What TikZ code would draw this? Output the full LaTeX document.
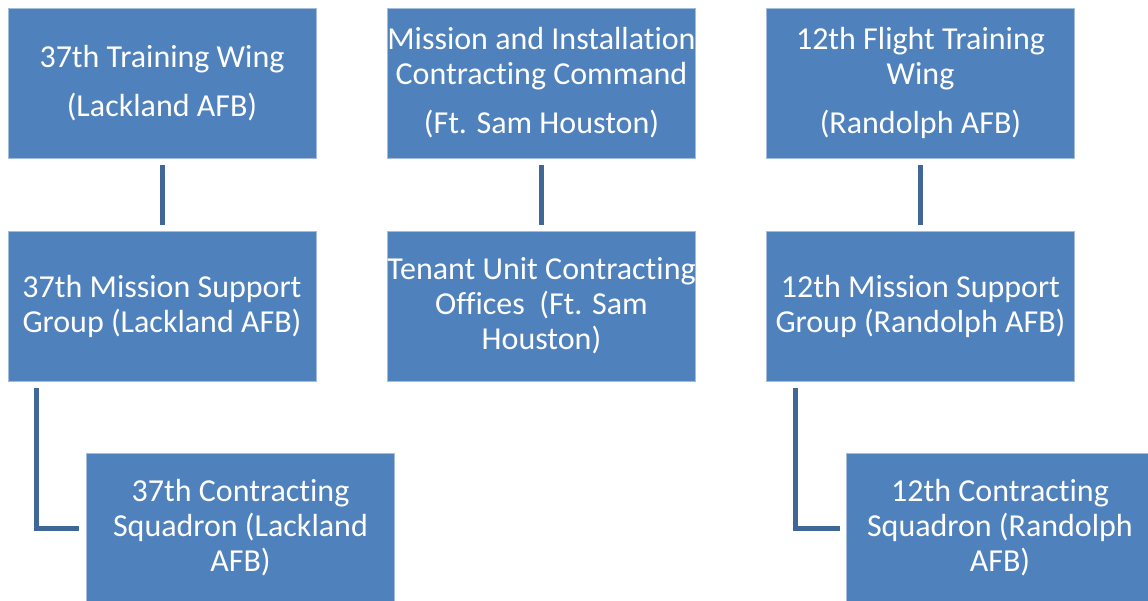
\documentclass[tikz,border=0pt]{standalone}
\usepackage{fontspec}
\setmainfont{Carlito}[Ligatures=NoCommon]
\usetikzlibrary{calc}
\definecolor{boxfill}{HTML}{4F81BD}
\definecolor{linecol}{HTML}{3F6899}
\definecolor{boxedge}{HTML}{A3BBDC}
\begin{document}
\begin{tikzpicture}[x=1pt,y=-1pt,
  box/.style={rectangle, fill=boxfill, draw=boxedge, line width=0.8pt,
    minimum width=308pt, minimum height=150pt, inner sep=0pt, text=white,
    align=center, font=\fontsize{32}{35}\selectfont},
  conn/.style={draw=linecol, line width=5pt}]
\useasboundingbox (0,0) rectangle (1148,601);
\clip (0,0) rectangle (1148,601);
% top row
\node[box] (a) at (162,83) {37th Training Wing\\[14pt](Lackland AFB)};
\node[box] (b) at (541.5,83) {Mission and Installation\\Contracting Command\\[14pt](Ft. Sam Houston)};
\node[box] (c) at (920.5,83) {12th Flight Training\\Wing\\[14pt](Randolph AFB)};
% second row
\node[box] (d) at (162,306) {37th Mission Support\\Group (Lackland AFB)};
\node[box] (e) at (541.5,306) {Tenant Unit Contracting\\Offices\ \ (Ft. Sam\\Houston)};
\node[box] (f) at (920.5,306) {12th Mission Support\\Group (Randolph AFB)};
% third row
\node[box] (g) at (240.5,528) {37th Contracting\\Squadron (Lackland\\AFB)};
\node[box] (h) at (1000,528) {12th Contracting\\Squadron (Randolph\\AFB)};
% connectors
\draw[conn] ($(a.south)+(0,7)$) -- ($(d.north)+(0,-6)$);
\draw[conn] ($(b.south)+(0,7)$) -- ($(e.north)+(0,-6)$);
\draw[conn] ($(c.south)+(0,7)$) -- ($(f.north)+(0,-6)$);
\draw[conn] ($(d.south west)+(29,7)$) |- ($(g.west)+(-7,0)$);
\draw[conn] ($(f.south west)+(29,7)$) |- ($(h.west)+(-6,0)$);
\end{tikzpicture}
\end{document}
